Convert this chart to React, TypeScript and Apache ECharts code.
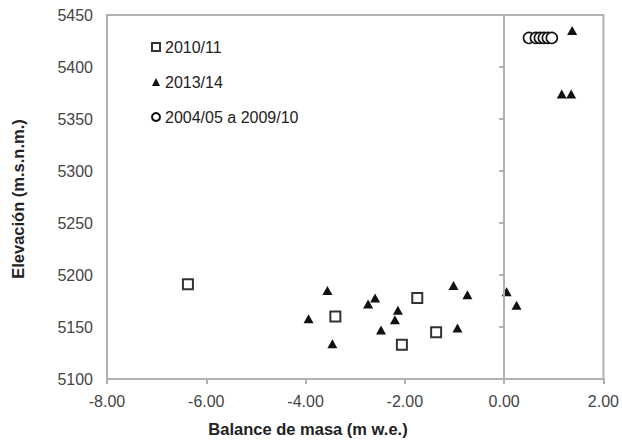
import React, { useEffect, useRef } from "react";
import * as echarts from "echarts";

const seriesNames = ["2010/11", "2013/14", "2004/05 a 2009/10"];

const squares2010: [number, number][] = [
  [-6.37, 5191],
  [-3.4, 5160],
  [-2.06, 5133],
  [-1.75, 5178],
  [-1.37, 5145],
];

const triangles2013: [number, number][] = [
  [-3.94, 5158],
  [-3.56, 5185],
  [-3.46, 5134],
  [-2.74, 5172],
  [-2.6, 5178],
  [-2.48, 5147],
  [-2.2, 5157],
  [-2.14, 5166],
  [-1.02, 5190],
  [-0.94, 5149],
  [-0.74, 5181],
  [0.05, 5184],
  [0.25, 5171],
  [1.16, 5374],
  [1.35, 5374],
  [1.37, 5435],
];

const circles0410: [number, number][] = [
  [0.5, 5428],
  [0.64, 5428],
  [0.72, 5428],
  [0.8, 5428],
  [0.88, 5428],
  [0.96, 5428],
];

const xName = "Balance de masa (m w.e.)";
const yName = "Elevación (m.s.n.m.)";

const FONT = "'Liberation Sans', Arial, Helvetica, sans-serif";
const AXIS_GRAY = "#b0b0b0";

export default function App() {
  const ref = useRef<HTMLDivElement>(null);
  useEffect(() => {
    if (!ref.current) return;
    const chart = echarts.init(ref.current, undefined, { renderer: "svg" });
    chart.setOption({
      animation: false,
      backgroundColor: "#fff",
      textStyle: { fontFamily: FONT },
      grid: {
        left: 107,
        right: 16,
        top: 15,
        bottom: 61,
        show: true,
        borderColor: AXIS_GRAY,
        borderWidth: 2,
        backgroundColor: "transparent",
      },
      legend: {
        orient: "vertical",
        left: 151,
        top: 39,
        padding: 0,
        itemWidth: 8,
        itemHeight: 8,
        itemGap: 19,
        textStyle: { fontSize: 16, color: "#222", fontFamily: FONT },
        data: [
          { name: seriesNames[0], icon: "rect" },
          { name: seriesNames[1], icon: "triangle" },
          { name: seriesNames[2], icon: "circle" },
        ],
      },
      xAxis: {
        type: "value",
        min: -8,
        max: 2,
        interval: 2,
        axisLine: { show: true, lineStyle: { color: AXIS_GRAY, width: 2 } },
        axisTick: { show: true, length: 5, lineStyle: { color: AXIS_GRAY, width: 2 } },
        splitLine: { show: false },
        axisLabel: {
          margin: 14,
          fontSize: 16,
          color: "#444",
          fontFamily: FONT,
          formatter: (v: number) => v.toFixed(2),
        },
      },
      yAxis: {
        type: "value",
        min: 5100,
        max: 5450,
        interval: 50,
        axisLine: { show: true, lineStyle: { color: AXIS_GRAY, width: 2 } },
        axisTick: { show: true, length: 5, lineStyle: { color: AXIS_GRAY, width: 2 } },
        splitLine: { show: false },
        axisLabel: {
          margin: 14,
          fontSize: 16,
          color: "#444",
          fontFamily: FONT,
          formatter: (v: number) => String(v),
        },
      },
      graphic: [
        {
          type: "text",
          x: 308,
          y: 429,
          style: {
            text: xName,
            align: "center",
            verticalAlign: "middle",
            font: `bold 16.5px ${FONT}`,
            fill: "#222",
          },
        },
        {
          type: "text",
          x: 18,
          y: 199,
          rotation: Math.PI / 2,
          style: {
            text: yName,
            align: "center",
            verticalAlign: "middle",
            font: `bold 16.5px ${FONT}`,
            fill: "#222",
          },
        },
      ],
      series: [
        {
          name: seriesNames[0],
          type: "scatter",
          symbol: "rect",
          symbolSize: 10,
          data: squares2010,
          itemStyle: { color: "#fff", borderColor: "#333", borderWidth: 2, opacity: 1 },
          z: 3,
          markLine: {
            silent: true,
            symbol: "none",
            label: { show: false },
            lineStyle: { color: AXIS_GRAY, width: 2, type: "solid" },
            data: [{ xAxis: 0 }],
          },
        },
        {
          name: seriesNames[1],
          type: "scatter",
          symbol: "triangle",
          symbolSize: [10, 9],
          data: triangles2013,
          itemStyle: { color: "#111", opacity: 1 },
          z: 4,
        },
        {
          name: seriesNames[2],
          type: "scatter",
          symbol: "circle",
          symbolSize: 11,
          data: circles0410,
          itemStyle: { color: "#fff", borderColor: "#111", borderWidth: 1.6, opacity: 1 },
          z: 5,
        },
      ],
    });
    return () => chart.dispose();
  }, []);
  return <div ref={ref} style={{ width: 622, height: 440, position: "absolute", left: 0, top: 0 }} />;
}
